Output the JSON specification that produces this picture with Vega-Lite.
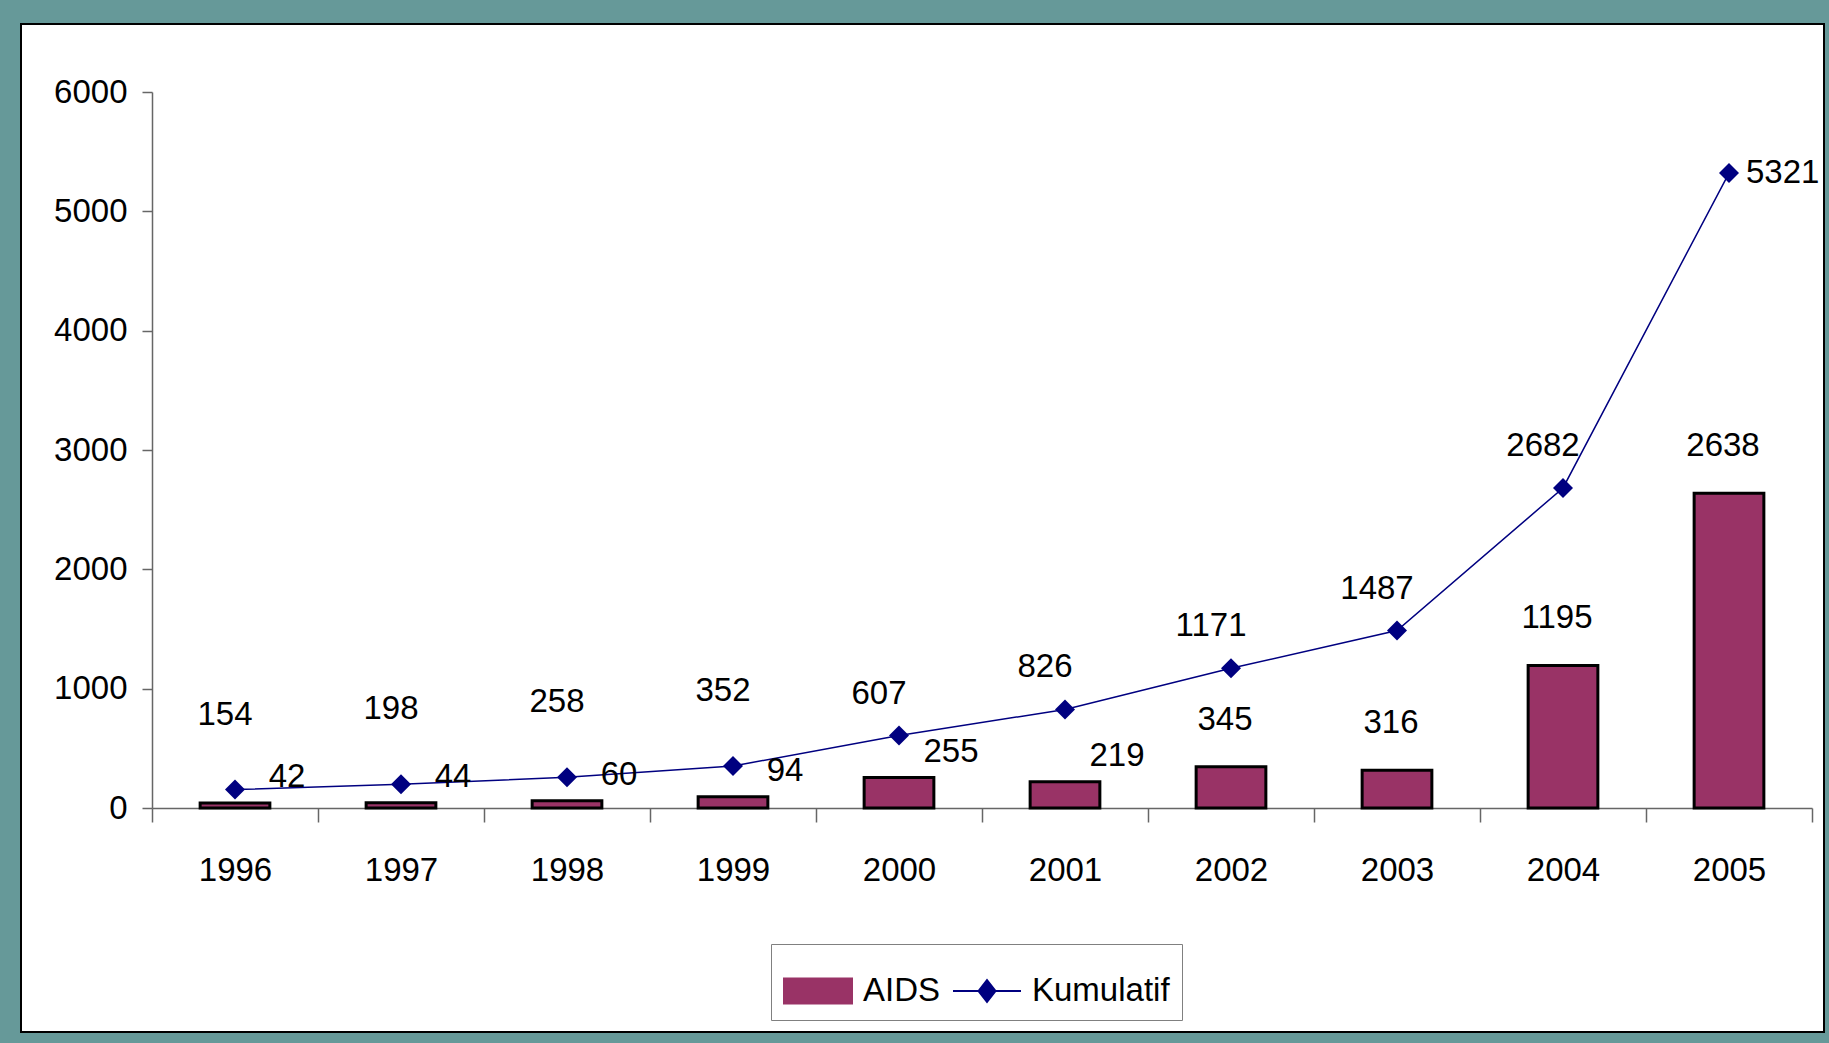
{
  "$schema": "https://vega.github.io/schema/vega-lite/v6.json",
  "width": 1803,
  "height": 1008,
  "autosize": {"type": "none"},
  "padding": {"left": 21, "top": 24, "right": 5, "bottom": 11},
  "background": "#669999",
  "config": {
    "view": {"fill": "white", "stroke": "black", "strokeWidth": 2},
    "font": "Liberation Sans",
    "text": {"font": "Liberation Sans", "fontSize": 33, "color": "black"}
  },
  "data": {
    "values": [
      {"year": 1996, "AIDS": 42, "Kumulatif": 154},
      {"year": 1997, "AIDS": 44, "Kumulatif": 198},
      {"year": 1998, "AIDS": 60, "Kumulatif": 258},
      {"year": 1999, "AIDS": 94, "Kumulatif": 352},
      {"year": 2000, "AIDS": 255, "Kumulatif": 607},
      {"year": 2001, "AIDS": 219, "Kumulatif": 826},
      {"year": 2002, "AIDS": 345, "Kumulatif": 1171},
      {"year": 2003, "AIDS": 316, "Kumulatif": 1487},
      {"year": 2004, "AIDS": 1195, "Kumulatif": 2682},
      {"year": 2005, "AIDS": 2638, "Kumulatif": 5321}
    ]
  },
  "encoding": {
    "x": {
      "field": "year",
      "type": "ordinal",
      "scale": {"type": "band", "range": [131, 1791], "paddingInner": 0, "paddingOuter": 0},
      "axis": {
        "title": null,
        "offset": -224,
        "tickBand": "extent",
        "labelAngle": 0,
        "tickSize": 14,
        "labelPadding": 32,
        "labelFontSize": 33,
        "labelFont": "Liberation Sans",
        "labelColor": "black",
        "domainColor": "#666666",
        "tickColor": "#666666",
        "domainWidth": 1.5,
        "tickWidth": 1.5
      }
    }
  },
  "layer": [
    {
      "mark": {"type": "bar", "width": {"band": 0.42}, "stroke": "black", "strokeWidth": 3},
      "encoding": {
        "y": {
          "field": "AIDS",
          "type": "quantitative",
          "scale": {"domain": [0, 6000], "range": [784, 68], "nice": false, "zero": true},
          "axis": {
            "title": null,
            "offset": -131,
            "values": [0, 1000, 2000, 3000, 4000, 5000, 6000],
            "format": "d",
            "grid": false,
            "tickSize": 10,
            "labelPadding": 15,
            "labelFontSize": 33,
            "labelFont": "Liberation Sans",
            "labelColor": "black",
            "domainColor": "#666666",
            "tickColor": "#666666",
            "domainWidth": 1.5,
            "tickWidth": 1.5
          }
        },
        "color": {
          "datum": "AIDS",
          "type": "nominal",
          "scale": {"domain": ["AIDS", "Kumulatif"], "range": ["#993366", "#000080"]},
          "legend": {
            "orient": "none",
            "legendX": 750,
            "legendY": 920,
            "direction": "horizontal",
            "title": null,
            "fillColor": "white",
            "strokeColor": "#808080",
            "padding": 12,
            "labelFontSize": 33,
            "labelFont": "Liberation Sans",
            "labelColor": "black",
            "symbolSize": 4624,
            "symbolStrokeWidth": 2,
            "labelOffset": 10,
            "columnPadding": 8,
            "encode": {
              "symbols": {
                "update": {
                  "shape": {"signal": "datum.value === 'AIDS' ? 'M-1,-0.37H1V0.37H-1Z' : 'M-1,0H1M-0.25,0L0,-0.32L0.25,0L0,0.32Z'"},
                  "fill": {"signal": "datum.value === 'AIDS' ? '#993366' : '#000080'"},
                  "stroke": {"signal": "datum.value === 'AIDS' ? 'black' : '#000080'"},
                  "fillOpacity": {"value": 1},
                  "strokeOpacity": {"value": 1},
                  "opacity": {"value": 1}
                }
              }
            }
          }
        }
      }
    },
    {
      "mark": {"type": "line", "strokeWidth": 1.5, "point": {"shape": "diamond", "size": 400, "filled": true, "opacity": 1}},
      "encoding": {
        "y": {"field": "Kumulatif", "type": "quantitative", "axis": {"title": null}},
        "color": {
          "datum": "Kumulatif",
          "type": "nominal",
          "legend": {
            "orient": "none",
            "legendX": 750,
            "legendY": 920,
            "direction": "horizontal",
            "title": null,
            "fillColor": "white",
            "strokeColor": "#808080",
            "padding": 12,
            "labelFontSize": 33,
            "labelFont": "Liberation Sans",
            "labelColor": "black",
            "symbolSize": 4624,
            "symbolStrokeWidth": 2,
            "labelOffset": 10,
            "columnPadding": 8,
            "encode": {
              "symbols": {
                "update": {
                  "shape": {"signal": "datum.value === 'AIDS' ? 'M-1,-0.37H1V0.37H-1Z' : 'M-1,0H1M-0.25,0L0,-0.32L0.25,0L0,0.32Z'"},
                  "fill": {"signal": "datum.value === 'AIDS' ? '#993366' : '#000080'"},
                  "stroke": {"signal": "datum.value === 'AIDS' ? 'black' : '#000080'"},
                  "fillOpacity": {"value": 1},
                  "strokeOpacity": {"value": 1},
                  "opacity": {"value": 1}
                }
              }
            }
          }
        }
      }
    },
    {
      "transform": [{"filter": "datum.year <= 1999"}],
      "mark": {"type": "text", "dx": -10, "dy": -75, "baseline": "middle"},
      "encoding": {
        "y": {"field": "Kumulatif", "type": "quantitative"},
        "text": {"field": "Kumulatif", "type": "quantitative"}
      }
    },
    {
      "transform": [{"filter": "datum.year >= 2000 && datum.year <= 2004"}],
      "mark": {"type": "text", "dx": -20, "dy": -42, "baseline": "middle"},
      "encoding": {
        "y": {"field": "Kumulatif", "type": "quantitative"},
        "text": {"field": "Kumulatif", "type": "quantitative"}
      }
    },
    {
      "transform": [{"filter": "datum.year == 2005"}],
      "mark": {"type": "text", "dx": 17, "dy": 0, "align": "left", "baseline": "middle"},
      "encoding": {
        "y": {"field": "Kumulatif", "type": "quantitative"},
        "text": {"field": "Kumulatif", "type": "quantitative"}
      }
    },
    {
      "transform": [{"filter": "datum.year <= 2001"}],
      "mark": {"type": "text", "dx": 52, "dy": -26, "baseline": "middle"},
      "encoding": {
        "y": {"field": "AIDS", "type": "quantitative"},
        "text": {"field": "AIDS", "type": "quantitative"}
      }
    },
    {
      "transform": [{"filter": "datum.year >= 2002"}],
      "mark": {"type": "text", "dx": -6, "dy": -47, "baseline": "middle"},
      "encoding": {
        "y": {"field": "AIDS", "type": "quantitative"},
        "text": {"field": "AIDS", "type": "quantitative"}
      }
    }
  ]
}
